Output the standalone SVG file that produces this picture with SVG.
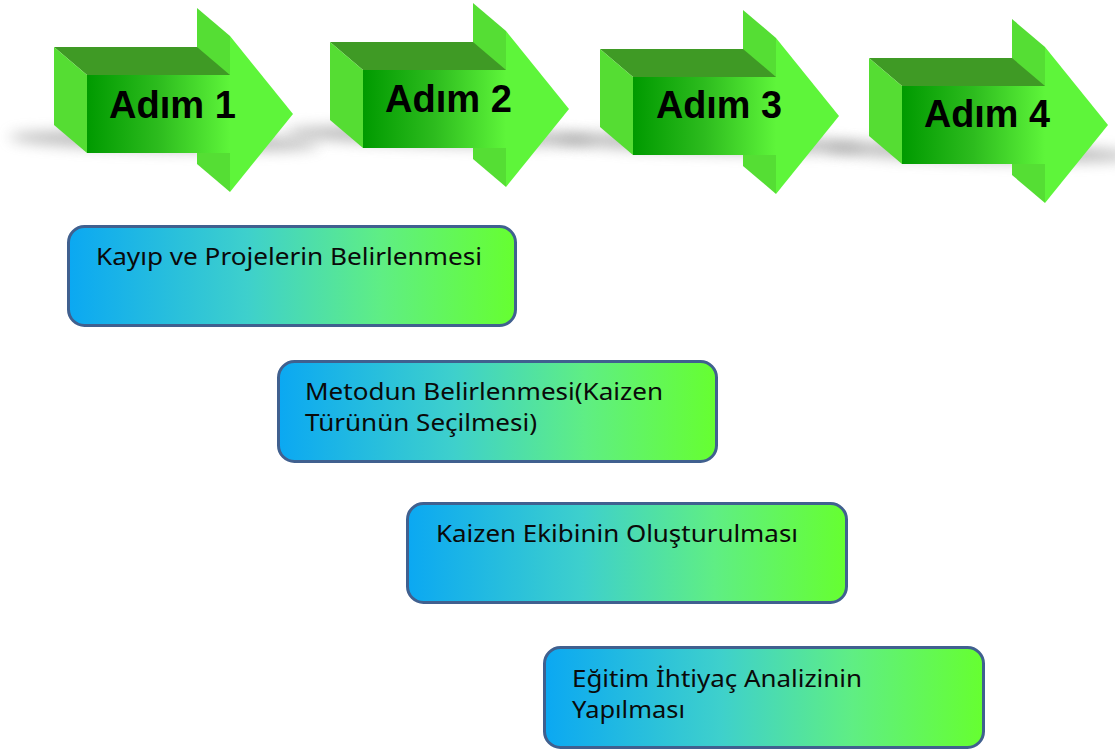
<svg xmlns="http://www.w3.org/2000/svg" xmlns:xlink="http://www.w3.org/1999/xlink" width="1115" height="749" viewBox="0 0 1115 749">
  <style>
    .step-label { font-family: "Liberation Sans", Arial, sans-serif; font-weight: bold; font-size: 38px; fill: #000; }
    .task { fill: url(#taskFill); stroke: #40608f; stroke-width: 3; }
    .task-text { font-family: "Noto Sans", "Open Sans", sans-serif; font-size: 23px; fill: #0a0a0a; }
    .shadow { fill: #808080; opacity: 0.55; filter: url(#soft); }
  </style>
  <defs>
    <linearGradient id="bodyFill" x1="0" y1="0" x2="1" y2="0">
      <stop offset="0" stop-color="#009a00"/>
      <stop offset="0.5" stop-color="#2dbc1e"/>
      <stop offset="1" stop-color="#5ef53a"/>
    </linearGradient>
    <linearGradient id="taskFill" x1="0" y1="0" x2="1" y2="0">
      <stop offset="0" stop-color="#0ba8f2"/>
      <stop offset="0.4" stop-color="#3ed0cc"/>
      <stop offset="0.7" stop-color="#5fee84"/>
      <stop offset="1" stop-color="#66ff30"/>
    </linearGradient>
    <filter id="soft" x="-30%" y="-300%" width="160%" height="700%">
      <feGaussianBlur stdDeviation="7"/>
    </filter>
    <!-- extruded block arrow, origin at the back top-left corner -->
    <g id="blockArrow">
      <polygon points="143,-39 176,-11 176,145 143,117" fill="#55de34"/>
      <polygon points="0,0 143,0 176,28 33,28" fill="#3f9a25"/>
      <polygon points="0,0 33,28 33,106 0,78" fill="#55dd33"/>
      <polygon points="176,-11 239,67 176,145" fill="#5ef53a"/>
      <rect x="33" y="28" width="143" height="78" fill="url(#bodyFill)"/>
    </g>
  </defs>

  <rect width="1115" height="749" fill="#ffffff"/>

  <!-- soft ground shadows behind the arrows -->
  <g id="shadows">
    <ellipse class="shadow" cx="164" cy="141" rx="155" ry="9" transform="rotate(1.5 164 141)"/>
    <ellipse class="shadow" cx="440" cy="136" rx="155" ry="9" transform="rotate(1.5 440 136)"/>
    <ellipse class="shadow" cx="710" cy="143" rx="155" ry="9" transform="rotate(1.5 710 143)"/>
    <ellipse class="shadow" cx="979" cy="152" rx="155" ry="9" transform="rotate(1.5 979 152)"/>
  </g>

  <g id="step1" transform="translate(54 47)">
    <use href="#blockArrow" xlink:href="#blockArrow"/>
    <text class="step-label" x="55" y="71" textLength="127" lengthAdjust="spacingAndGlyphs">Adım 1</text>
  </g>
  <g id="step2" transform="translate(330 42)">
    <use href="#blockArrow" xlink:href="#blockArrow"/>
    <text class="step-label" x="55" y="70" textLength="127" lengthAdjust="spacingAndGlyphs">Adım 2</text>
  </g>
  <g id="step3" transform="translate(600 49)">
    <use href="#blockArrow" xlink:href="#blockArrow"/>
    <text class="step-label" x="56" y="69" textLength="126" lengthAdjust="spacingAndGlyphs">Adım 3</text>
  </g>
  <g id="step4" transform="translate(869 58)">
    <use href="#blockArrow" xlink:href="#blockArrow"/>
    <text class="step-label" x="55" y="69" textLength="126" lengthAdjust="spacingAndGlyphs">Adım 4</text>
  </g>

  <g id="task1">
    <rect class="task" x="68.5" y="226.5" width="447" height="99" rx="16"/>
    <text class="task-text" x="96" y="265" textLength="386" lengthAdjust="spacingAndGlyphs">Kayıp ve Projelerin Belirlenmesi</text>
  </g>
  <g id="task2">
    <rect class="task" x="278.5" y="361.5" width="438" height="100" rx="16"/>
    <text class="task-text" x="305" y="400" textLength="358" lengthAdjust="spacingAndGlyphs">Metodun Belirlenmesi(Kaizen</text>
    <text class="task-text" x="305" y="431" textLength="232" lengthAdjust="spacingAndGlyphs">Türünün Seçilmesi)</text>
  </g>
  <g id="task3">
    <rect class="task" x="407.5" y="503.5" width="439" height="99" rx="16"/>
    <text class="task-text" x="436" y="542" textLength="362" lengthAdjust="spacingAndGlyphs">Kaizen Ekibinin Oluşturulması</text>
  </g>
  <g id="task4">
    <rect class="task" x="544.5" y="647.5" width="439" height="100" rx="16"/>
    <text class="task-text" x="572" y="687" textLength="290" lengthAdjust="spacingAndGlyphs">Eğitim İhtiyaç Analizinin</text>
    <text class="task-text" x="572" y="718" textLength="113" lengthAdjust="spacingAndGlyphs">Yapılması</text>
  </g>
</svg>
